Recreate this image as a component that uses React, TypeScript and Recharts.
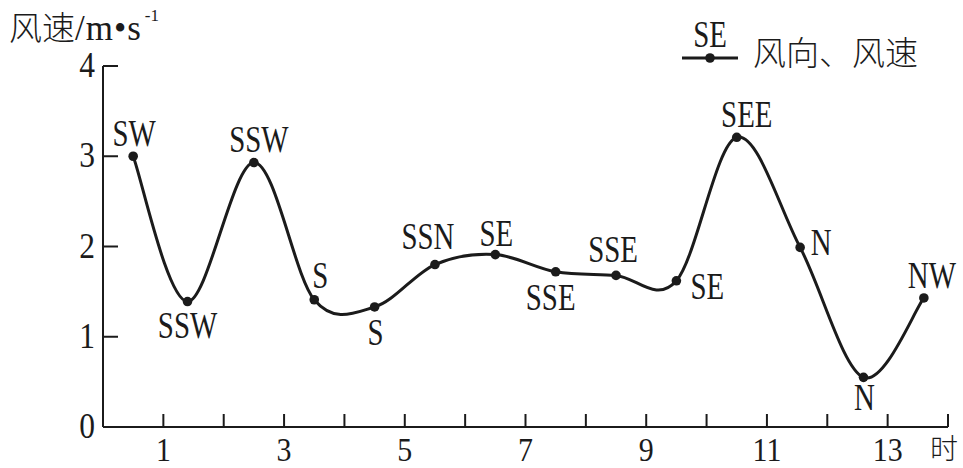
import { Line, LineChart, XAxis, YAxis } from "recharts";

// hours (x), wind speed m/s (y), wind direction label
const HOURS = [0.5, 1.4, 2.5, 3.5, 4.5, 5.5, 6.5, 7.5, 8.5, 9.5, 10.5, 11.55, 12.6, 13.6];
const SPEEDS = [3.0, 1.39, 2.93, 1.41, 1.33, 1.8, 1.91, 1.72, 1.68, 1.62, 3.21, 1.99, 0.55, 1.43];
const DIRECTIONS = ["SW", "SSW", "SSW", "S", "S", "SSN", "SE", "SSE", "SSE", "SE", "SEE", "N", "N", "NW"];

const X_TICKS = [1, 2, 3, 4, 5, 6, 7, 8, 9, 10, 11, 12, 13, 14];
const Y_TICKS = [0, 1, 2, 3, 4];

// label placement relative to each dot (centre x, baseline y)
const LABEL_OFFSETS: [number, number][] = [
  [1, -10], [0, 36], [5, -11], [6, -12], [1, 38], [-7, -16], [1, -9],
  [-5, 38], [-3, -13], [31, 18], [10, -10], [21, 8], [1, 33], [8, -10],
];

const data = HOURS.map((h, i) => ({ hour: h, speed: SPEEDS[i], dir: DIRECTIONS[i] }));

const INK = "#1b1b1b";
const SERIF = "Liberation Serif, Times New Roman, serif";
const CJK = "Noto Sans CJK SC, sans-serif";

// uniform Catmull-Rom (cardinal, tension 0) in the d3 curve-factory shape
function catmullRom(context: any) {
  let pts: [number, number][] = [];
  return {
    areaStart() {},
    areaEnd() {},
    lineStart() {
      pts = [];
    },
    point(x: number, y: number) {
      pts.push([+x, +y]);
    },
    lineEnd() {
      if (!pts.length) return;
      context.moveTo(pts[0][0], pts[0][1]);
      for (let i = 0; i < pts.length - 1; i++) {
        const p0 = pts[Math.max(i - 1, 0)];
        const p1 = pts[i];
        const p2 = pts[i + 1];
        const p3 = pts[Math.min(i + 2, pts.length - 1)];
        context.bezierCurveTo(
          p1[0] + (p2[0] - p0[0]) / 6,
          p1[1] + (p2[1] - p0[1]) / 6,
          p2[0] - (p3[0] - p1[0]) / 6,
          p2[1] - (p3[1] - p1[1]) / 6,
          p2[0],
          p2[1]
        );
      }
    },
  };
}

function XTick(props: any) {
  const { x, y, payload } = props;
  const v = payload.value as number;
  return (
    <g>
      <line x1={x} y1={y} x2={x} y2={y - 13} stroke={INK} strokeWidth={2} />
      {v === 14 ? (
        <text x={x - 4} y={y + 32} textAnchor="middle" fontSize={28} fontFamily={CJK} fontWeight={300} fill={INK}>
          时
        </text>
      ) : v % 2 === 1 ? (
        <text
          transform={`translate(${x} ${y + 34}) scale(0.88 1)`}
          textAnchor="middle"
          fontSize={34}
          fontFamily={SERIF}
          fill={INK}
        >
          {v}
        </text>
      ) : null}
    </g>
  );
}

function YTick(props: any) {
  const { x, y, payload } = props;
  const v = payload.value as number;
  return (
    <g>
      {v > 0 && <line x1={x} y1={y} x2={x + 15} y2={y} stroke={INK} strokeWidth={2} />}
      <text
        transform={`translate(${x - 8} ${y + 11}) scale(0.9 1)`}
        textAnchor="end"
        fontSize={35}
        fontFamily={SERIF}
        fill={INK}
      >
        {v}
      </text>
    </g>
  );
}

function DirDot(props: any) {
  const { cx, cy, index, payload } = props;
  const [dx, dy] = LABEL_OFFSETS[index] ?? [0, -10];
  return (
    <g key={`dot-${index}`}>
      <circle cx={cx} cy={cy} r={4.8} fill={INK} />
      <text
        transform={`translate(${cx + dx} ${cy + dy}) scale(0.78 1)`}
        textAnchor="middle"
        fontSize={37}
        fontFamily={SERIF}
        fill={INK}
      >
        {payload.dir}
      </text>
    </g>
  );
}

export default function App() {
  return (
    <div style={{ position: "absolute", left: 0, top: 0, width: 963, height: 468, background: "#fff" }}>
      <LineChart
        width={963}
        height={468}
        data={data}
        margin={{ top: 66, right: 15, bottom: 40, left: 102 }}
      >
        <XAxis
          dataKey="hour"
          type="number"
          domain={[0, 14]}
          ticks={X_TICKS}
          interval={0}
          height={1}
          tickSize={0}
          tickMargin={0}
          tick={XTick}
          tickLine={false}
          axisLine={{ stroke: INK, strokeWidth: 2 }}
        />
        <YAxis
          type="number"
          domain={[0, 4]}
          ticks={Y_TICKS}
          interval={0}
          width={1}
          tickSize={0}
          tickMargin={0}
          tick={YTick}
          tickLine={false}
          axisLine={{ stroke: INK, strokeWidth: 2 }}
        />
        <Line
          dataKey="speed"
          type={catmullRom as any}
          stroke={INK}
          strokeWidth={3}
          dot={DirDot}
          activeDot={false}
          isAnimationActive={false}
        />
      </LineChart>
      <svg
        width={963}
        height={468}
        style={{ position: "absolute", left: 0, top: 0, pointerEvents: "none" }}
      >
        <text x={9} y={40} fill={INK}>
          <tspan fontFamily={CJK} fontWeight={300} fontSize={33}>风速</tspan>
          <tspan fontFamily={SERIF} fontSize={35} letterSpacing={1}>/m•s</tspan>
          <tspan fontFamily={SERIF} fontSize={17} dx={3} dy={-19}>-1</tspan>
        </text>
        <text
          transform="translate(710 47) scale(0.78 1)"
          textAnchor="middle"
          fontSize={37}
          fontFamily={SERIF}
          fill={INK}
        >
          SE
        </text>
        <line x1={682} y1={58} x2={738} y2={58} stroke={INK} strokeWidth={3} />
        <circle cx={710} cy={58} r={4.8} fill={INK} />
        <text x={753} y={65} fontSize={33} fontFamily={CJK} fontWeight={300} fill={INK}>
          风向、风速
        </text>
      </svg>
    </div>
  );
}
